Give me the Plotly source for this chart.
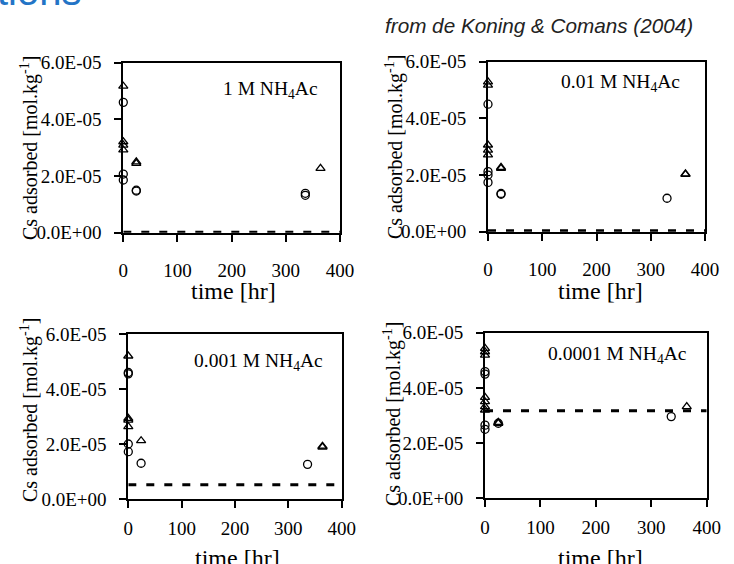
import plotly.graph_objects as go

# ---------------- data ----------------
panel_labels = ["1 M NH<sub>4</sub>Ac", "0.01 M NH<sub>4</sub>Ac",
                "0.001 M NH<sub>4</sub>Ac", "0.0001 M NH<sub>4</sub>Ac"]

tri_t_1 = [0, 0, 0, 0, 24, 24, 364]
tri_v_1 = [5.17e-5, 3.21e-5, 3.09e-5, 2.92e-5, 2.50e-5, 2.45e-5, 2.27e-5]
circ_t_1 = [0, 0, 0, 24, 24, 336, 336]
circ_v_1 = [4.60e-5, 2.07e-5, 1.86e-5, 1.50e-5, 1.47e-5, 1.39e-5, 1.32e-5]
model_1 = 0.02e-5

tri_t_2 = [0, 0, 0, 0, 0, 24, 24, 364, 364]
tri_v_2 = [5.29e-5, 5.17e-5, 3.06e-5, 2.88e-5, 2.71e-5, 2.27e-5, 2.24e-5, 2.04e-5, 2.02e-5]
circ_t_2 = [0, 0, 0, 0, 24, 24, 330]
circ_v_2 = [4.50e-5, 2.12e-5, 2.00e-5, 1.74e-5, 1.35e-5, 1.32e-5, 1.18e-5]
model_2 = 0.03e-5

tri_t_3 = [0, 0, 0, 0, 24, 364, 364]
tri_v_3 = [5.20e-5, 2.93e-5, 2.87e-5, 2.63e-5, 2.12e-5, 1.92e-5, 1.89e-5]
circ_t_3 = [0, 0, 0, 0, 24, 336]
circ_v_3 = [4.60e-5, 4.55e-5, 2.00e-5, 1.72e-5, 1.30e-5, 1.26e-5]
model_3 = 0.52e-5

tri_t_4 = [0, 0, 0, 0, 0, 0, 0, 24, 24, 364]
tri_v_4 = [5.43e-5, 5.31e-5, 5.19e-5, 3.66e-5, 3.50e-5, 3.32e-5, 3.20e-5, 2.75e-5, 2.72e-5, 3.32e-5]
circ_t_4 = [0, 0, 0, 0, 24, 336]
circ_v_4 = [4.59e-5, 4.50e-5, 2.65e-5, 2.50e-5, 2.72e-5, 2.96e-5]
model_4 = 3.17e-5

model_t = [0, 400]

x_ticks = [0, 100, 200, 300, 400]
y_ticks = [0, 2e-5, 4e-5, 6e-5]
y_tick_text = ["0.0E+00", "2.0E-05", "4.0E-05", "6.0E-05"]

# ---------------- layout geometry ----------------
W, H = 734, 564
# pixel boxes: (left, right, top, bottom)
boxes = [(123.3, 340.0, 62.7, 232.7),
         (488.0, 705.0, 61.7, 231.7),
         (128.3, 341.7, 334.0, 499.0),
         (485.0, 706.7, 332.7, 498.3)]

panels = [(tri_t_1, tri_v_1, circ_t_1, circ_v_1, model_1),
          (tri_t_2, tri_v_2, circ_t_2, circ_v_2, model_2),
          (tri_t_3, tri_v_3, circ_t_3, circ_v_3, model_3),
          (tri_t_4, tri_v_4, circ_t_4, circ_v_4, model_4)]

serif = "Liberation Serif, Times New Roman, serif"
sans = "Liberation Sans, Arial, sans-serif"

fig = go.Figure()
layout = dict(width=W, height=H, margin=dict(l=0, r=0, t=0, b=0, pad=0),
              paper_bgcolor="white", plot_bgcolor="white", showlegend=False,
              annotations=[])

for i, ((tt, tv, ct, cv, mv), (l, r, t, b)) in enumerate(zip(panels, boxes)):
    n = "" if i == 0 else str(i + 1)
    xa, ya = "x" + n, "y" + n
    fig.add_trace(go.Scatter(x=model_t, y=[mv, mv], mode="lines", xaxis=xa, yaxis=ya,
                             line=dict(color="black", width=3, dash="8px,10px"),
                             hoverinfo="skip"))
    fig.add_trace(go.Scatter(x=ct, y=cv, mode="markers", xaxis=xa, yaxis=ya, cliponaxis=False,
                             marker=dict(symbol="circle-open", size=8, color="black",
                                         line=dict(width=1.3, color="black"))))
    fig.add_trace(go.Scatter(x=tt, y=tv, mode="markers", xaxis=xa, yaxis=ya, cliponaxis=False,
                             marker=dict(symbol="triangle-up-open", size=8, color="black",
                                         line=dict(width=1.3, color="black"))))
    top_row = i < 2
    layout["xaxis" + n] = dict(domain=[l / W, r / W], anchor=ya, range=[0, 400],
                               tickvals=x_ticks, ticks="outside", ticklen=7, tickwidth=2,
                               tickcolor="black", showline=True, linecolor="black",
                               linewidth=2, mirror=True, showgrid=False, zeroline=False,
                               automargin=False,
                               tickfont=dict(family=serif, size=19, color="black"),
                               ticklabelstandoff=12 if top_row else 4)
    layout["yaxis" + n] = dict(domain=[1 - b / H, 1 - t / H], anchor=xa, range=[0, 6e-5],
                               tickvals=y_ticks, ticktext=y_tick_text, ticks="outside",
                               ticklen=7, tickwidth=2, tickcolor="black", showline=True,
                               linecolor="black", linewidth=2, mirror=True, showgrid=False,
                               zeroline=False, automargin=False,
                               tickfont=dict(family=serif, size=19, color="black"),
                               ticklabelstandoff=9)

# panel labels
label_pos = [(320, 90), (682, 83), (325, 362), (689, 355)]
for txt, (x, y) in zip(panel_labels, label_pos):
    layout["annotations"].append(dict(text=txt, x=x / W, y=1 - y / H, xref="paper", yref="paper",
                                      xanchor="right", yanchor="middle", showarrow=False,
                                      font=dict(family=serif, size=19.5, color="black")))

# axis titles
ytitle_pos = [(29, 148), (394, 147), (29, 410), (392, 414)]
for (x, y) in ytitle_pos:
    layout["annotations"].append(dict(text="Cs adsorbed [mol.kg<sup>-1</sup>]", x=x / W, y=1 - y / H,
                                      xref="paper", yref="paper", xanchor="center", yanchor="middle",
                                      textangle=-90, showarrow=False,
                                      font=dict(family=serif, size=20, color="black")))
xtitle_pos = [(233, 291), (600, 291), (237, 558), (600, 558)]
for (x, y) in xtitle_pos:
    layout["annotations"].append(dict(text="time [hr]", x=x / W, y=1 - y / H,
                                      xref="paper", yref="paper", xanchor="center", yanchor="middle",
                                      showarrow=False,
                                      font=dict(family=serif, size=24, color="black")))

# slide texts
layout["annotations"].append(dict(text="<i>from de Koning &amp; Comans (2004)</i>", x=383 / W, y=1 - 25 / H,
                                  xref="paper", yref="paper", xanchor="left", yanchor="middle",
                                  showarrow=False,
                                  font=dict(family=sans, size=20.7, color="#222222")))
layout["annotations"].append(dict(text="tions", x=-5 / W, y=1 - 15 / H,
                                  xref="paper", yref="paper", xanchor="left", yanchor="bottom",
                                  showarrow=False,
                                  font=dict(family=sans, size=40, color="#2374c6")))

fig.update_layout(**layout)
fig.write_html("out.html",
               post_script="document.body.style.margin='0';document.body.style.overflow='hidden';"
                           "document.documentElement.style.overflow='hidden';")
